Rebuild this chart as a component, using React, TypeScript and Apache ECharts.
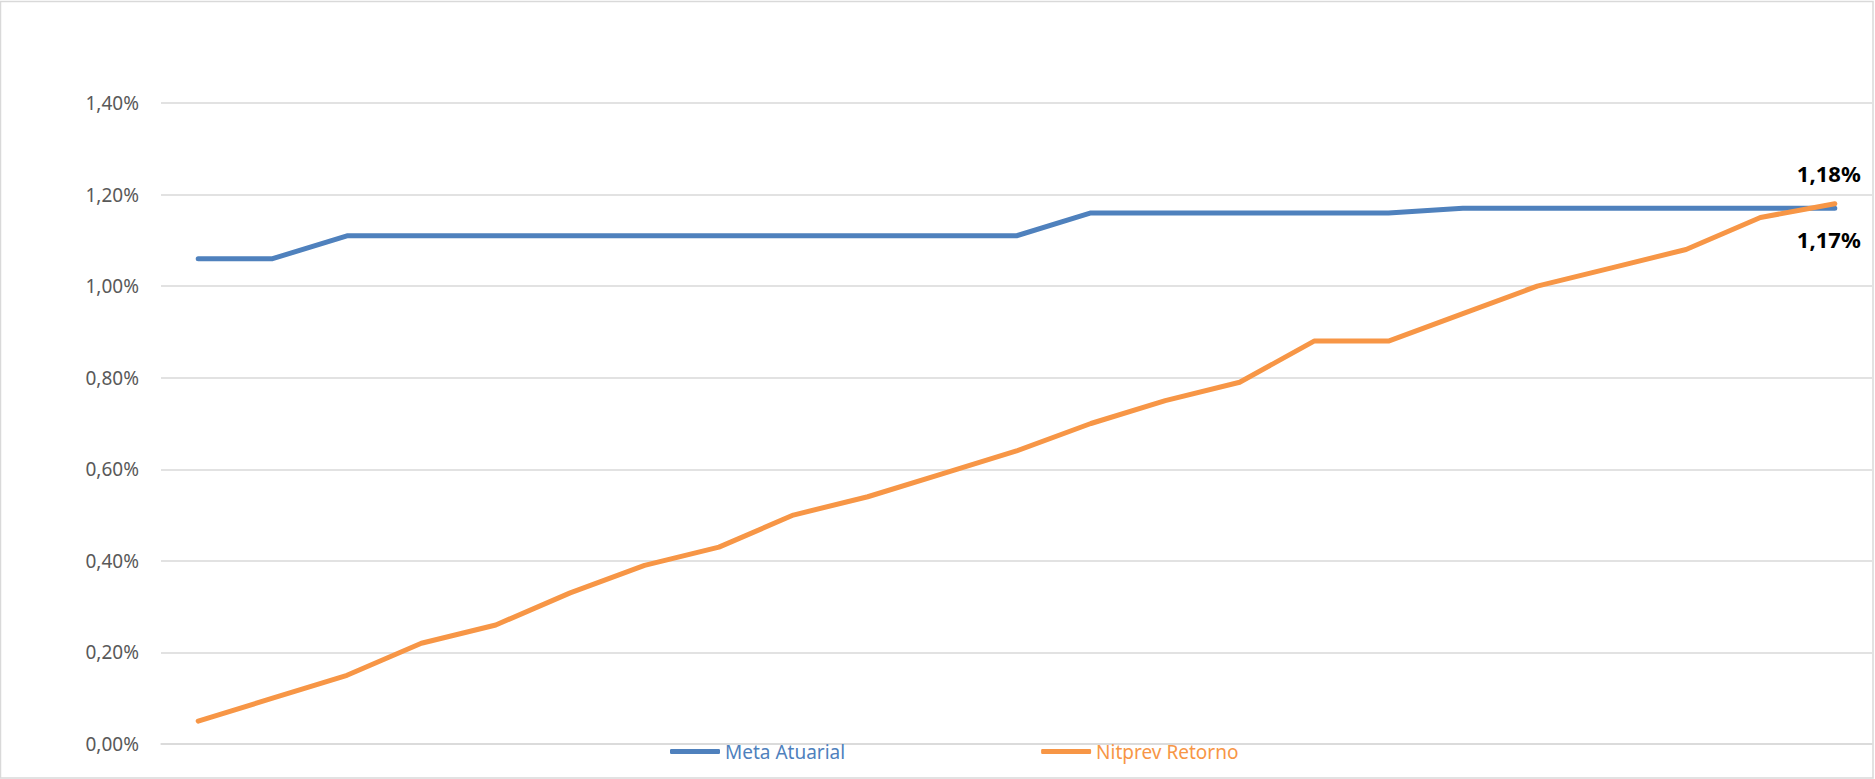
import React, { useEffect, useRef } from "react";
import * as echarts from "echarts";

const categories = ["1","2","3","4","5","6","7","8","9","10","11","12","13","14","15","16","17","18","19","20","21","22","23"];
const metaAtuarial = [1.06,1.06,1.11,1.11,1.11,1.11,1.11,1.11,1.11,1.11,1.11,1.11,1.16,1.16,1.16,1.16,1.16,1.17,1.17,1.17,1.17,1.17,1.17];
const nitprevRetorno = [0.05,0.10,0.15,0.22,0.26,0.33,0.39,0.43,0.50,0.54,0.59,0.64,0.70,0.75,0.79,0.88,0.88,0.94,1.00,1.04,1.08,1.15,1.18];
const seriesNames = ["Meta Atuarial", "Nitprev Retorno"];
const seriesColors = ["#4F81BD", "#F79646"];

const fmt = (v: number) => v.toFixed(2).replace(".", ",") + "%";
const FONT = "'Noto Sans', sans-serif";

export default function App() {
  const ref = useRef<HTMLDivElement>(null);
  useEffect(() => {
    if (!ref.current) return;
    const chart = echarts.init(ref.current, null, { renderer: "svg" });
    const last = categories.length - 1;
    const mkData = (arr: number[], pos: "top" | "bottom", dist: number) =>
      arr.map((v, i) =>
        i === last
          ? {
              value: v,
              label: {
                show: true,
                position: pos,
                distance: dist,
                offset: [-6, 0],
                formatter: () => fmt(v),
                fontFamily: FONT,
                fontSize: 22,
                fontWeight: "bold",
                color: "#000000",
              },
            }
          : v
      );
    chart.setOption({
      animation: false,
      backgroundColor: "#ffffff",
      grid: { left: 161, right: 3, top: 103, bottom: 35, containLabel: false },
      legend: {
        left: 665,
        top: 737,
        itemGap: 196,
        itemWidth: 50,
        itemHeight: 5,
        icon: "roundRect",
        textStyle: { fontFamily: FONT, fontSize: 19 },
        data: seriesNames.map((n, i) => ({ name: n, textStyle: { color: seriesColors[i] } })),
      },
      xAxis: {
        type: "category",
        data: categories,
        boundaryGap: true,
        axisLine: { show: true, lineStyle: { color: "#d9d9d9", width: 1.5 } },
        axisTick: { show: false },
        axisLabel: { show: false },
        splitLine: { show: false },
      },
      yAxis: {
        type: "value",
        min: 0,
        max: 1.4,
        interval: 0.2,
        axisLine: { show: false },
        axisTick: { show: false },
        axisLabel: {
          formatter: (v: number) => fmt(v),
          fontFamily: FONT,
          fontSize: 19,
          color: "#595959",
          margin: 22,
        },
        splitLine: { lineStyle: { color: "#d9d9d9", width: 1.5 } },
      },
      series: [
        {
          name: seriesNames[0],
          type: "line",
          data: mkData(metaAtuarial, "bottom", 20),
          color: seriesColors[0],
          showSymbol: true,
          symbol: "circle",
          symbolSize: 0,
          lineStyle: { width: 5, color: seriesColors[0], cap: "round", join: "round" },
        },
        {
          name: seriesNames[1],
          type: "line",
          data: mkData(nitprevRetorno, "top", 20),
          color: seriesColors[1],
          showSymbol: true,
          symbol: "circle",
          symbolSize: 0,
          lineStyle: { width: 5, color: seriesColors[1], cap: "round", join: "round" },
        },
      ],
      graphic: [
        {
          type: "rect",
          shape: { x: 0.5, y: 1.5, width: 1872.5, height: 776.5 },
          style: { fill: "none", stroke: "#d9d9d9", lineWidth: 1.5 },
          silent: true,
        },
      ],
    });
    return () => chart.dispose();
  }, []);
  return (
    <div
      ref={ref}
      style={{ position: "absolute", left: 0, top: 0, width: 1875, height: 779 }}
    />
  );
}
